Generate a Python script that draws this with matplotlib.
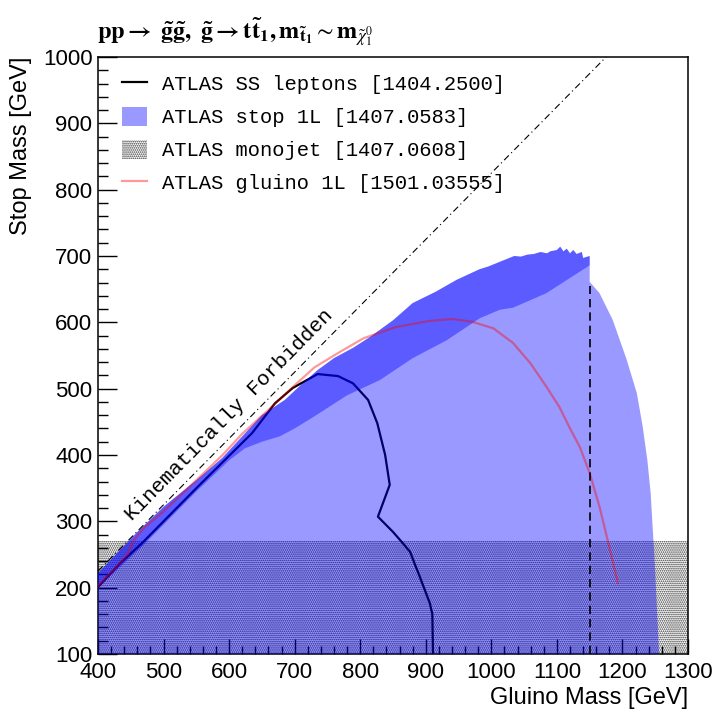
import matplotlib
matplotlib.use("Agg")
import matplotlib.pyplot as plt
from matplotlib.lines import Line2D
from matplotlib.patches import Patch
import numpy as np

plt.rcParams["font.family"] = ["Liberation Sans", "DejaVu Sans"]
plt.rcParams["mathtext.fontset"] = "stix"
plt.rcParams["hatch.linewidth"] = 0.8

# ATLAS SS leptons [1404.2500]
ss_x = [400, 434, 467, 550, 635, 670, 697, 735, 766, 789, 812, 826, 838, 845,
        827, 850, 865, 876, 891, 906, 910, 911]
ss_y = [201, 237, 267, 350, 433, 478, 501, 522, 519, 508, 483, 448, 400, 355,
        307, 284, 267, 254, 216, 177, 160, 100]

# ATLAS gluino 1L [1501.03555]
g1l_x = [400, 425, 445, 455, 470, 500, 550, 590, 620, 660, 700, 730, 770, 805,
         855, 905, 940, 970, 1003, 1033, 1059, 1084, 1104, 1120, 1135, 1150,
         1165, 1180, 1193]
g1l_y = [203, 228, 250, 272, 290, 315, 362, 400, 432, 468, 505, 532, 556, 576,
         593, 602, 605, 601, 591, 569, 539, 503, 472, 440, 412, 373,
         322, 261, 207]

# ATLAS stop 1L [1407.0583] - upper edge of the excluded region
top_x = [400, 430, 461, 500, 550, 589, 620, 650, 685, 710, 735, 760, 790, 815,
         850, 880, 915, 947, 982, 995, 1010, 1020, 1035, 1045, 1055, 1065,
         1075, 1085, 1090, 1100, 1105, 1110, 1115, 1120, 1125, 1130, 1138,
         1140, 1150]
top_y = [222, 253, 285, 322, 362, 395, 428, 460, 483, 506, 528, 546, 562, 578,
         603, 629, 646, 664, 680, 684, 690, 694, 700, 699, 702, 703,
         706, 704, 707, 709, 714, 707, 711, 704, 709, 703, 706,
         697, 700]
# right edge beyond the stop 1L grid limit
right_x = [1150, 1165, 1185, 1206, 1222, 1231, 1238, 1243, 1246, 1249, 1252, 1256]
right_y = [661, 644, 604, 545, 493, 442, 392, 343, 292, 242, 181, 100]
# lower edge of the overlap band
band_x = [400, 467, 550, 600, 624, 650, 677, 700, 728, 780, 830, 880, 932,
          982, 1013, 1033, 1084, 1150]
band_y = [200, 262, 345, 392, 410, 420, 428, 440, 457, 490, 513, 546, 573,
          606, 619, 622, 644, 686]

# ATLAS monojet [1407.0608]
mono_x = [400, 1300]
mono_top = 270

top_mass = 175
grid_limit = 1150
grid_top = 655

fig = plt.figure(figsize=(7.16, 7.09), dpi=100)
ax = fig.add_axes([0.1369, 0.0776, 0.824, 0.842])

# monojet hatched region
ax.fill_between(mono_x, 100, mono_top, facecolor="none", edgecolor="#333333",
                hatch="........", linewidth=0, zorder=1)

# SS leptons line (under the blue fills)
ax.plot(ss_x, ss_y, color="black", lw=1.6, zorder=2)

# stop 1L fills
light_x = [400] + top_x + right_x
light_y = [100] + top_y + right_y
ax.fill(light_x, light_y, color="blue", alpha=0.4, lw=0, zorder=3)
ax.fill(top_x + band_x[::-1], top_y + band_y[::-1], color="blue", alpha=0.4,
        lw=0, zorder=3)

# gluino 1L
ax.plot(g1l_x, g1l_y, color="red", alpha=0.4, lw=1.6, zorder=4)

# kinematic limit
kin_x = np.array([400, 1000 + top_mass])
ax.plot(kin_x, kin_x - top_mass, color="black", lw=0.8,
        dashes=(6, 3, 1, 3), zorder=5)
ax.text(452, 300, "Kinematically Forbidden", rotation=45.5,
        rotation_mode="anchor", ha="left", va="baseline",
        family="Liberation Mono", fontsize=15, zorder=5)

ax.vlines(grid_limit, 100, grid_top, color="black", lw=1.2,
          linestyles=(0, (5, 3)), zorder=5)

ax.set_xlim(400, 1300)
ax.set_ylim(100, 1000)
ax.set_xticks(np.arange(400, 1301, 100))
ax.set_yticks(np.arange(100, 1001, 100))
ax.set_xticks(np.arange(400, 1301, 20), minor=True)
ax.set_yticks(np.arange(100, 1001, 20), minor=True)
ax.tick_params(axis="x", which="major", direction="in", length=11, width=1,
               labelsize=16, pad=6)
ax.tick_params(axis="x", which="minor", direction="in", length=6, width=1)
ax.tick_params(axis="y", which="major", direction="in", length=14, width=1,
               labelsize=16, pad=4)
ax.tick_params(axis="y", which="minor", direction="in", length=7, width=1)
for s in ax.spines.values():
    s.set_linewidth(1.1)

ax.set_xlabel("Gluino Mass [GeV]", loc="right", fontsize=17)
ax.set_ylabel("Stop Mass [GeV]", loc="top", fontsize=17)
ax.xaxis.set_label_coords(1.0, -0.056)
ax.yaxis.set_label_coords(-0.112, 1.0)

handles = [
    Line2D([], [], color="black", lw=1.6),
    Patch(facecolor="#9999ff", edgecolor="none"),
    Patch(facecolor="white", edgecolor="#333333", hatch="........", lw=0),
    Line2D([], [], color="#ff9999", lw=1.6),
]
labels = ["ATLAS SS leptons [1404.2500]", "ATLAS stop 1L [1407.0583]",
          "ATLAS monojet [1407.0608]", "ATLAS gluino 1L [1501.03555]"]
ax.legend(handles, labels, loc="upper left", bbox_to_anchor=(0.027, 0.985),
          frameon=False, prop={"family": "Liberation Mono", "size": 14.8},
          handlelength=1.2, handleheight=1.0, handletextpad=0.75,
          labelspacing=0.62, borderaxespad=0)

fig.text(0.135, 0.955,
         r"$\mathbf{pp\rightarrow\ \tilde{g}\tilde{g},\ \tilde{g}\rightarrow t\tilde{t}_1, m_{\tilde{t}_1}} \sim \mathbf{m}_{\tilde{\chi}^0_1}$",
         fontsize=17.5, va="center", ha="left")

fig.savefig("out.png", dpi=100)
